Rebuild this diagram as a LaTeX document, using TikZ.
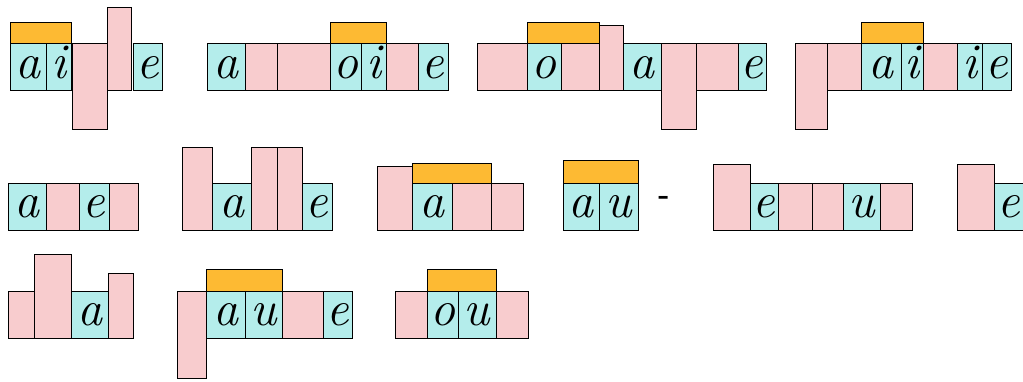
\documentclass[tikz,border=0pt]{standalone}
\usepackage{fontspec}
\definecolor{cyanc}{RGB}{180,237,235}
\definecolor{pinkc}{RGB}{248,204,206}
\definecolor{orgc}{RGB}{253,186,51}
\newcommand\bx[5]{\draw[#1] (#2,#3) rectangle (#4,#5);}
\newcommand\lt[4]{\node[letr] (#1) at (#2,#3) {#4};}
\begin{document}
\begin{tikzpicture}[x=1pt,y=-1pt,
  cell/.style={draw=black,line width=0.9pt},
  cy/.style={cell,fill=cyanc},
  pk/.style={cell,fill=pinkc},
  og/.style={cell,fill=orgc},
  letr/.style={anchor=base,inner sep=0pt,font=\fontsize{50}{56}\selectfont\itshape}]
\useasboundingbox (0,0) rectangle (1023,381);
% ---------- Row 1 (top 43, bottom 90) ----------
% aigle
\bx{og}{10}{22}{71}{43}
\bx{cy}{10}{43}{46}{90}
\bx{cy}{46}{43}{71}{90}
\bx{pk}{72}{43}{107}{129}
\bx{pk}{107}{7}{131}{90}
\bx{cy}{133}{43}{162}{90}
\lt{a1a}{28}{78}{a}
\lt{a1i}{58.5}{78}{i}
\lt{a1e}{147.5}{78}{e}
% armoire
\bx{cy}{207}{43}{245}{90}
\bx{pk}{245}{43}{277}{90}
\bx{pk}{277}{43}{330}{90}
\bx{cy}{330}{43}{361}{90}
\bx{cy}{361}{43}{386}{90}
\bx{pk}{386}{43}{418}{90}
\bx{cy}{418}{43}{448}{90}
\bx{og}{330}{22}{386}{43}
\lt{a2a}{226}{78}{a}
\lt{a2o}{345.5}{78}{o}
\lt{a2i}{373.5}{78}{i}
\lt{a2e}{433}{78}{e}
% montagne
\bx{pk}{477}{43}{527}{90}
\bx{cy}{527}{43}{561}{90}
\bx{pk}{561}{43}{599}{90}
\bx{pk}{599}{25}{623}{90}
\bx{cy}{623}{43}{661}{90}
\bx{pk}{661}{43}{696}{129}
\bx{pk}{696}{43}{738}{90}
\bx{cy}{738}{43}{766}{90}
\bx{og}{527}{22}{599}{43}
\lt{a3o}{544}{78}{o}
\lt{a3a}{642}{78}{a}
\lt{a3e}{752}{78}{e}
% prairie
\bx{pk}{795}{43}{827}{129}
\bx{pk}{827}{43}{861}{90}
\bx{cy}{861}{43}{901}{90}
\bx{cy}{901}{43}{923}{90}
\bx{pk}{923}{43}{957}{90}
\bx{cy}{957}{43}{982}{90}
\bx{cy}{982}{43}{1011}{90}
\bx{og}{861}{22}{923}{43}
\lt{a4a}{881}{78}{a}
\lt{a4i}{912}{78}{i}
\lt{a4j}{969.5}{78}{i}
\lt{a4e}{996.5}{78}{e}
% ---------- Row 2 (top 183, bottom 230) ----------
\bx{cy}{8}{183}{46}{230}
\bx{pk}{46}{183}{79}{230}
\bx{cy}{79}{183}{109}{230}
\bx{pk}{109}{183}{138}{230}
\lt{b1a}{27}{217}{a}
\lt{b1e}{94}{217}{e}
% halle
\bx{pk}{182}{147}{212}{230}
\bx{cy}{212}{183}{251}{230}
\bx{pk}{251}{147}{277}{230}
\bx{pk}{277}{147}{302}{230}
\bx{cy}{302}{183}{332}{230}
\lt{b2a}{231.5}{217}{a}
\lt{b2e}{317}{217}{e}
% an word
\bx{pk}{377}{166}{412}{230}
\bx{cy}{412}{183}{452}{230}
\bx{pk}{452}{183}{491}{230}
\bx{pk}{491}{183}{523}{230}
\bx{og}{412}{163}{491}{183}
\lt{b3a}{432}{217}{a}
% au -
\bx{og}{563}{160}{638}{183}
\bx{cy}{563}{183}{599}{230}
\bx{cy}{599}{183}{638}{230}
\lt{b4a}{581}{217}{a}
\lt{b4u}{618.5}{217}{u}
\node[inner sep=0pt,font=\fontsize{30}{34}\selectfont\bfseries] (dash) at (664,200) {-};
% e u word
\bx{pk}{713}{164}{750}{230}
\bx{cy}{750}{183}{778}{230}
\bx{pk}{778}{183}{812}{230}
\bx{pk}{812}{183}{843}{230}
\bx{cy}{843}{183}{880}{230}
\bx{pk}{880}{183}{912}{230}
\lt{b5e}{764}{217}{e}
\lt{b5u}{861.5}{217}{u}
% last (cut)
\bx{pk}{957}{164}{994}{230}
\bx{cy}{994}{183}{1026}{230}
\lt{b6e}{1009}{217}{e}
% ---------- Row 3 (top 291, bottom 338) ----------
% chat
\bx{pk}{8}{291}{34}{338}
\bx{pk}{34}{254}{71}{338}
\bx{cy}{71}{291}{108}{338}
\bx{pk}{108}{273}{133}{338}
\lt{c1a}{89.5}{325}{a}
% au word
\bx{pk}{177}{291}{206}{378}
\bx{cy}{206}{291}{245}{338}
\bx{cy}{245}{291}{282}{338}
\bx{pk}{282}{291}{323}{338}
\bx{cy}{323}{291}{352}{338}
\bx{og}{206}{269}{282}{291}
\lt{c2a}{225.5}{325}{a}
\lt{c2u}{263.5}{325}{u}
\lt{c2e}{337.5}{325}{e}
% ou word
\bx{pk}{395}{291}{427}{338}
\bx{cy}{427}{291}{458}{338}
\bx{cy}{458}{291}{496}{338}
\bx{pk}{496}{291}{528}{338}
\bx{og}{427}{269}{496}{291}
\lt{c3o}{442.5}{325}{o}
\lt{c3u}{477}{325}{u}
\end{tikzpicture}
\end{document}
